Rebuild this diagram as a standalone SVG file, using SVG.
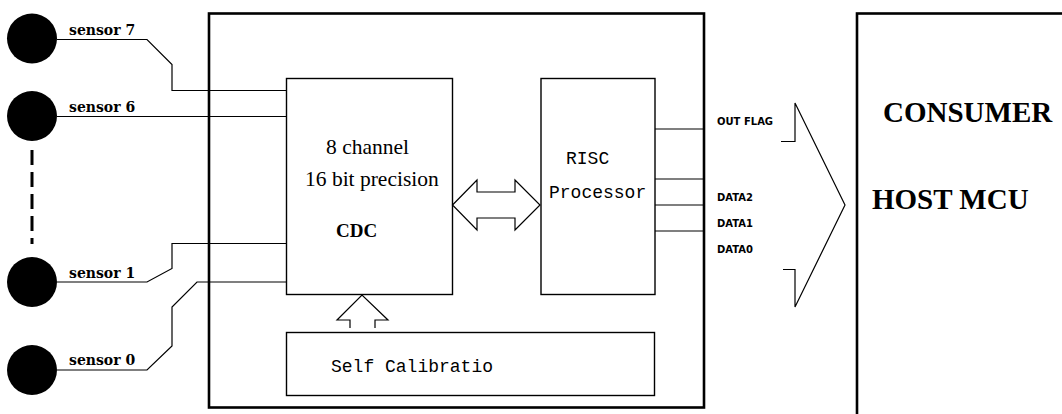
<svg xmlns="http://www.w3.org/2000/svg" width="1062" height="414" viewBox="0 0 1062 414">
<style>
.thin{fill:none;stroke:#000;stroke-width:1.2}
.thick{fill:none;stroke:#000;stroke-width:2.6}
.box{fill:#fff;stroke:#000;stroke-width:1.4}
.sens{fill:#000}
.slabel{font-family:"DejaVu Serif",serif;font-weight:bold;font-size:14px;fill:#000}
.serif{font-family:"Liberation Serif","Times New Roman",serif;fill:#000}
.mono{font-family:"Liberation Mono","Courier New",monospace;font-size:18px;fill:#000}
.small{font-family:"DejaVu Sans",sans-serif;font-weight:bold;font-size:10px;fill:#000}
.big{font-family:"Liberation Serif","Times New Roman",serif;font-weight:bold;font-size:29px;fill:#000}
</style>
<rect width="1062" height="414" fill="#fff"/>
<g id="chip">
<rect x="209" y="13.5" width="495" height="394" class="thick"/>
</g>
<g id="host">
<rect x="857" y="13.5" width="300" height="500" class="thick"/>
<text x="883" y="122" class="big">CONSUMER</text>
<text x="872" y="209" class="big">HOST MCU</text>
</g>
<g id="sensor7">
<circle cx="32" cy="38.5" r="25" class="sens"/>
<text x="69" y="35" class="slabel">sensor 7</text>
</g>
<g id="sensor6">
<circle cx="32" cy="116" r="25" class="sens"/>
<text x="69" y="112" class="slabel">sensor 6</text>
</g>
<g id="sensor1">
<circle cx="32" cy="282" r="25" class="sens"/>
<text x="69" y="278" class="slabel">sensor 1</text>
</g>
<g id="sensor0">
<circle cx="32" cy="370" r="25" class="sens"/>
<text x="69" y="365" class="slabel">sensor 0</text>
</g>
<g id="cdc">
<rect x="286.5" y="78.5" width="166" height="216" class="box"/>
<text x="326" y="154" class="serif" font-size="21.5">8 channel</text>
<text x="305" y="186" class="serif" font-size="21.5">16 bit precision</text>
<text x="336" y="237" class="serif" font-size="19" font-weight="bold">CDC</text>
</g>
<g id="risc">
<rect x="541" y="78.5" width="114" height="216" class="box"/>
<text x="566" y="164" class="mono">RISC</text>
<text x="549" y="198" class="mono">Processor</text>
</g>
<g id="calib">
<rect x="286.5" y="332.5" width="368" height="63" class="box"/>
<text x="331" y="372" class="mono">Self Calibratio</text>
</g>
<g id="signals">
<text x="717" y="125" class="small">OUT FLAG</text>
<text x="717" y="201" class="small">DATA2</text>
<text x="717" y="227" class="small">DATA1</text>
<text x="717" y="253" class="small">DATA0</text>
</g>
<g id="connectors">
<line x1="32" y1="150" x2="32" y2="244" stroke="#000" stroke-width="3" stroke-dasharray="15 7"/>
<polyline class="thin" points="57,39.5 147,39.5 172,64.5 172,90.5 286.5,90.5"/>
<polyline class="thin" points="57,116.5 286.5,116.5"/>
<polyline class="thin" points="57,282 147,282 172,268.5 172,243.5 286.5,243.5"/>
<polyline class="thin" points="57,370 147,370 172,346 172,307 197,282 286.5,282"/>
<polygon class="thin" points="452.5,205 477,180 477,192 515,192 515,180 540,205 515,230 515,218 477,218 477,230"/>
<polyline class="thin" points="350,328 350,320 337,320 362,295 388,320 375,320 375,328"/>
<line x1="655" y1="129" x2="704" y2="129" class="thin"/>
<line x1="655" y1="179" x2="704" y2="179" class="thin"/>
<line x1="655" y1="205" x2="704" y2="205" class="thin"/>
<line x1="655" y1="231" x2="704" y2="231" class="thin"/>
<polyline class="thin" points="781,141.5 795,141.5 795,103 845,205 795,307 795,269.5 783,269.5"/>
</g>
</svg>
